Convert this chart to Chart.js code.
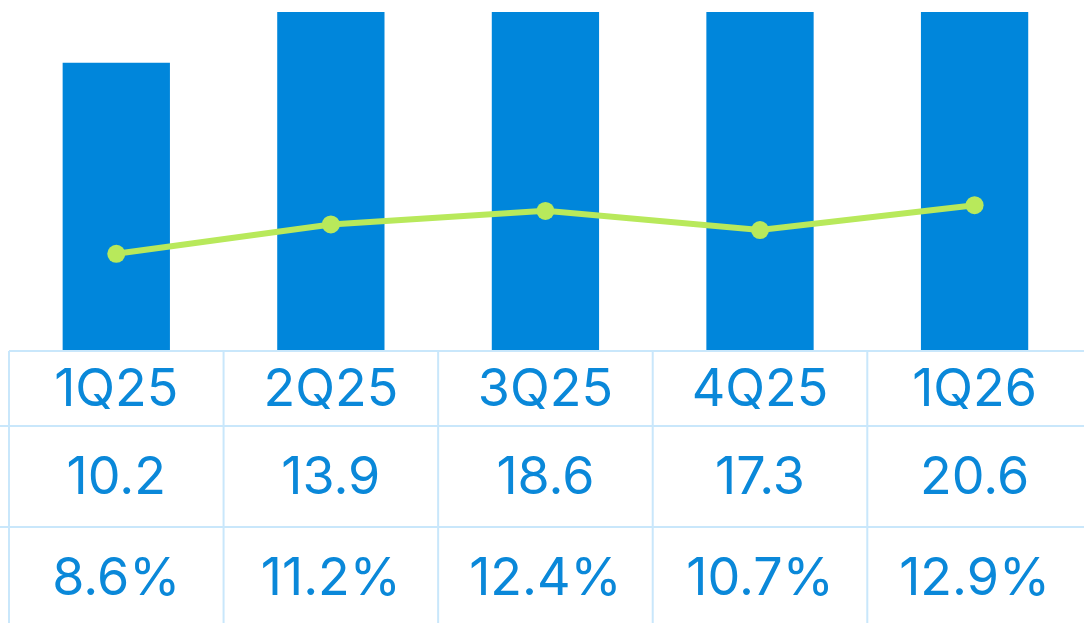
<!DOCTYPE html>
<html>
<head>
<meta charset="utf-8">
<script src="https://cdn.jsdelivr.net/npm/chart.js@4.4.1/dist/chart.umd.min.js"></script>
<style>
  html, body { margin: 0; padding: 0; background: #fff; overflow: hidden; }
  canvas { display: block; }
</style>
</head>
<body>
<canvas id="chart" width="1084" height="623"></canvas>
<script>
// datos del gráfico
const quarters = ['1Q25', '2Q25', '3Q25', '4Q25', '1Q26'];
const revenue = [10.2, 13.9, 18.6, 17.3, 20.6];
const margin = [8.6, 11.2, 12.4, 10.7, 12.9];
const revenueLabels = ['10.2', '13.9', '18.6', '17.3', '20.6'];
const marginLabels = ['8.6%', '11.2%', '12.4%', '10.7%', '12.9%'];

const blue = '#0086db';
const textBlue = '#0a88d9';
const lime = '#b8e95b';
const gridBlue = '#c9e7fb';

// el eje x es lineal: cada trimestre en su índice, la última columna queda cortada a la derecha
const toPoints = arr => arr.map((v, i) => ({ x: i, y: v }));

// tabla debajo del gráfico (categorías, valores, porcentajes)
const tablePlugin = {
    id: 'table',
    afterDraw(chart) {
        const ctx = chart.ctx;
        const x = chart.scales.x;
        const area = chart.chartArea;
        const top = area.bottom;
        const row1 = top + 75;
        const row2 = row1 + 101;
        const bottom = chart.height;

        ctx.save();
        ctx.strokeStyle = gridBlue;
        ctx.lineWidth = 2;
        ctx.beginPath();
        ctx.moveTo(area.left, top); ctx.lineTo(chart.width, top);
        ctx.moveTo(0, row1); ctx.lineTo(chart.width, row1);
        ctx.moveTo(0, row2); ctx.lineTo(chart.width, row2);
        quarters.forEach((q, i) => {
            const lx = x.getPixelForValue(i - 0.5);
            ctx.moveTo(lx, top); ctx.lineTo(lx, bottom);
        });
        ctx.stroke();

        ctx.fillStyle = textBlue;
        ctx.font = '52px Inter';
        ctx.textAlign = 'center';
        ctx.textBaseline = 'alphabetic';
        quarters.forEach((q, i) => {
            const cx = x.getPixelForValue(i);
            ctx.fillText(q, cx, top + 55);
            ctx.fillText(revenueLabels[i], cx, row1 + 68);
            ctx.fillText(marginLabels[i], cx, row2 + 68);
        });
        ctx.restore();
    }
};

new Chart(document.getElementById('chart'), {
    data: {
        datasets: [
            {
                type: 'line',
                data: toPoints(margin),
                yAxisID: 'y1',
                borderColor: lime,
                backgroundColor: lime,
                borderWidth: 6,
                pointRadius: 9,
                pointBorderWidth: 0,
                tension: 0,
                order: 0
            },
            {
                type: 'bar',
                data: toPoints(revenue),
                yAxisID: 'y',
                backgroundColor: blue,
                categoryPercentage: 1,
                barPercentage: 0.5,
                order: 1
            }
        ]
    },
    options: {
        responsive: false,
        animation: false,
        layout: { padding: { left: 8, right: 0, top: 12, bottom: 272 } },
        plugins: { legend: { display: false }, tooltip: { enabled: false } },
        scales: {
            x: {
                type: 'linear', display: false, offset: false, min: -0.5, max: 4.468,
                afterBuildTicks: scale => { scale.ticks = quarters.map((q, i) => ({ value: i })); }
            },
            y: { display: false, min: 0, max: 12 },
            y1: { display: false, min: 0, max: 30, position: 'right' }
        }
    },
    plugins: [tablePlugin]
});
</script>
</body>
</html>
